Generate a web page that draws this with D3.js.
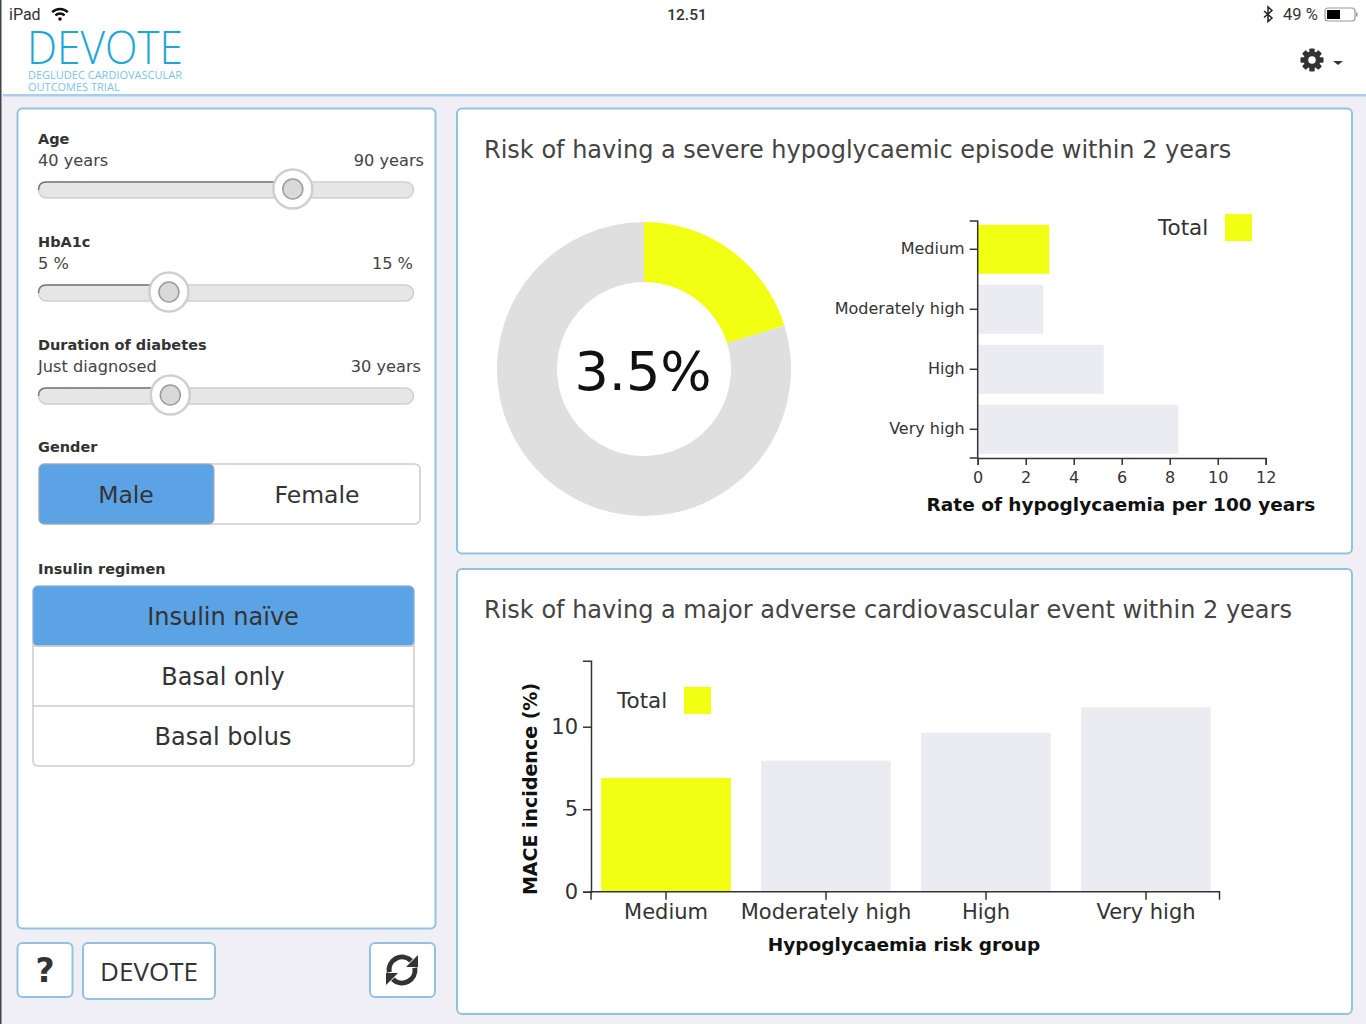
<!DOCTYPE html>
<html>
<head>
<meta charset="utf-8">
<title>DEVOTE</title>
<script src="https://cdn.jsdelivr.net/npm/d3@7"></script>
<style>
  body { margin: 0; background: #f0eff6; }
  svg { display: block; }
  text { font-family: "DejaVu Sans", sans-serif; fill: #333; }
  .axis text { fill: #333; }
  .axis line, .axis path { stroke: #333; stroke-width: 1.5px; }
</style>
</head>
<body>
<div id="chart"></div>
<script>
// values
const riskGroups = ["Medium", "Moderately high", "High", "Very high"];
const hypoRates = [2.98, 2.73, 5.25, 8.36];
const maceValues = [6.89, 7.94, 9.64, 11.17];
const donutValues = [3.5, 13.8];
const donutLabel = "3.5%";
const hypoTicks = [0, 2, 4, 6, 8, 10, 12];
const maceTicks = [0, 5, 10];

const sliderNames = ["Age", "HbA1c", "Duration of diabetes"];
const sliderMinLabels = ["40 years", "5 %", "Just diagnosed"];
const sliderMaxLabels = ["90 years", "15 %", "30 years"];
const sliderDomains = [[40, 90], [5, 15], [0, 30]];
const sliderValues = [74.6, 8.36, 10.2];
const regimens = ["Insulin naïve", "Basal only", "Basal bolus"];

const colors = {
    bg: "#f0eff6",
    border: "#93c1e2",
    yellow: "#f2ff12",
    pale: "#ebecf2",
    donutGrey: "#dfdfdf",
    selected: "#5ba3e4",
    logo: "#1fa6d8",
    logoSub: "#7cc3e6"
};

const svg = d3.select("#chart").append("svg")
    .attr("width", 1366)
    .attr("height", 1024);

function label(parent, str, x, y, size, opts = {}) {
    return parent.append("text")
        .attr("x", x)
        .attr("y", y)
        .attr("font-size", size)
        .attr("font-weight", opts.weight || "normal")
        .attr("text-anchor", opts.anchor || "start")
        .style("font-family", opts.family || null)
        .style("fill", opts.fill || null)
        .text(str);
}

function box(parent, x, y, w, h, opts = {}) {
    return parent.append("rect")
        .attr("x", x).attr("y", y).attr("width", w).attr("height", h)
        .attr("rx", opts.r === undefined ? 5 : opts.r)
        .attr("fill", opts.fill || "#fff")
        .attr("stroke", opts.stroke || colors.border)
        .attr("stroke-width", opts.sw || 2);
}

// header
svg.append("rect").attr("width", 1366).attr("height", 95).attr("fill", "#fff");
svg.append("rect").attr("x", 3).attr("y", 94).attr("width", 1363).attr("height", 2.5).attr("fill", "#a9cdeb");
svg.append("rect").attr("width", 1.5).attr("height", 1024).attr("fill", "#444");

label(svg, "iPad", 9, 20, 16, { family: "Roboto" });
const wifi = svg.append("g").attr("transform", "translate(60,20)")
    .attr("fill", "none").attr("stroke", "#111").attr("stroke-width", 2.4);
[11, 6.5].forEach(r => {
    wifi.append("path").attr("d", d3.arc()({
        innerRadius: r, outerRadius: r,
        startAngle: -Math.PI / 4, endAngle: Math.PI / 4
    }));
});
wifi.append("circle").attr("r", 1.8).attr("cy", -1).attr("fill", "#111").attr("stroke", "none");

label(svg, "12.51", 687, 20, 15.5, { anchor: "middle", family: "Roboto", weight: 500 });
svg.append("path")
    .attr("d", "M1264,11 L1272,18 L1268,21.5 L1268,7 L1272,10.5 L1264,17.5")
    .attr("fill", "none").attr("stroke", "#222").attr("stroke-width", 1.5);
label(svg, "49 %", 1283, 20, 16.5, { family: "Roboto" });
box(svg, 1325, 8, 30, 13, { r: 3, stroke: "#999", sw: 1.2 });
svg.append("rect").attr("x", 1327).attr("y", 10).attr("width", 13).attr("height", 9).attr("fill", "#000");
svg.append("rect").attr("x", 1356).attr("y", 12.5).attr("width", 1.5).attr("height", 4).attr("fill", "#999");

label(svg, "DEVOTE", 27, 64, 46, { family: "Open Sans", weight: 300, fill: colors.logo })
    .attr("textLength", 156).attr("lengthAdjust", "spacingAndGlyphs");
label(svg, "DEGLUDEC CARDIOVASCULAR", 28, 79, 11, { family: "Open Sans", fill: colors.logoSub });
label(svg, "OUTCOMES TRIAL", 28, 91, 11, { family: "Open Sans", fill: colors.logoSub });

// gear
const gear = svg.append("g").attr("transform", "translate(1312,60)");
d3.range(4).forEach(i => {
    gear.append("rect").attr("x", -2.7).attr("y", -11.5).attr("width", 5.4).attr("height", 23)
        .attr("rx", 1).attr("fill", "#333").attr("transform", `rotate(${i * 45})`);
});
gear.append("circle").attr("r", 8.5).attr("fill", "#333");
gear.append("circle").attr("r", 3.8).attr("fill", "#fff");
svg.append("path").attr("d", "M1333,61 L1343,61 L1338,65 Z").attr("fill", "#333");

// left panel
box(svg, 17.5, 108.5, 418, 820);

const sliderBlocks = [139, 242, 345];
const sliderX = i => d3.scaleLinear().domain(sliderDomains[i]).range([52, 400]);
sliderNames.forEach((name, i) => {
    const top = sliderBlocks[i];
    const g = svg.append("g");
    label(g, name, 38, top + 5, 14.5, { weight: "bold" });
    label(g, sliderMinLabels[i], 38, top + 27, 16.2, { fill: "#444" });
    label(g, sliderMaxLabels[i], i === 1 ? 413 : (i === 0 ? 424 : 421), top + 27, 16.2, { anchor: "end", fill: "#444" });
    const cx = sliderX(i)(sliderValues[i]);
    const ty = top + 50;
    box(g, 38.5, ty - 7, 375, 16, { r: 8, fill: "#e6e6e6", stroke: "#cfcfcf", sw: 1.5 });
    g.append("path")
        .attr("d", `M${cx},${ty - 7} L46,${ty - 7} Q38.5,${ty - 7} 38.5,${ty + 1}`)
        .attr("fill", "none").attr("stroke", "#777").attr("stroke-width", 1.5);
    g.append("circle").attr("cx", cx).attr("cy", ty).attr("r", 19.5)
        .attr("fill", "#fff").attr("stroke", "#cfcfcf").attr("stroke-width", 2.5);
    g.append("circle").attr("cx", cx).attr("cy", ty).attr("r", 10)
        .attr("fill", "#d9d9d9").attr("stroke", "#9c9c9c").attr("stroke-width", 1.5);
});

label(svg, "Gender", 38, 452, 14.5, { weight: "bold" });
box(svg, 39, 464, 381, 60, { stroke: "#ccc", sw: 1.5 });
box(svg, 39, 464, 175, 60, { fill: colors.selected, stroke: "#aaa", sw: 1 });
label(svg, "Male", 126, 503, 23.5, { anchor: "middle" });
label(svg, "Female", 317, 503, 23.5, { anchor: "middle" });

label(svg, "Insulin regimen", 38, 574, 14.5, { weight: "bold" });
box(svg, 33, 586, 381, 180, { stroke: "#ccc", sw: 1.5 });
regimens.forEach((r, i) => {
    if (i === 0) {
        box(svg, 33, 586, 381, 60, { fill: colors.selected, stroke: "#8fb8dd", sw: 1 });
    } else {
        svg.append("line").attr("x1", 33).attr("x2", 414)
            .attr("y1", 586 + 60 * i).attr("y2", 586 + 60 * i)
            .attr("stroke", "#ccc").attr("stroke-width", 1.5);
    }
    label(svg, r, 223, 625 + 60 * i, 24, { anchor: "middle" });
});

// bottom buttons
box(svg, 17.5, 943, 55, 54);
label(svg, "?", 45, 982, 33, { anchor: "middle", weight: "bold" });
box(svg, 83, 943, 132, 56);
label(svg, "DEVOTE", 149, 981, 26, { anchor: "middle", family: "Open Sans" });
box(svg, 370, 943, 65, 54);
const refresh = svg.append("g").attr("transform", "translate(402,970)");
[[-100, 45], [80, 225]].forEach(([a, b]) => {
    refresh.append("path").attr("d", d3.arc()({
        innerRadius: 10.5, outerRadius: 15.5,
        startAngle: a * Math.PI / 180,
        endAngle: b * Math.PI / 180
    })).attr("fill", "#333");
});
refresh.append("path").attr("d", "M16,-15 L16,-3 L4,-3 Z").attr("fill", "#333");
refresh.append("path").attr("d", "M-16,15 L-16,3 L-4,3 Z").attr("fill", "#333");

// right panels
box(svg, 457, 108.5, 895, 445);
box(svg, 457, 569, 895, 445);
label(svg, "Risk of having a severe hypoglycaemic episode within 2 years", 484, 158, 24, { fill: "#444" });
label(svg, "Risk of having a major adverse cardiovascular event within 2 years", 484, 618, 24, { fill: "#444" });

// donut
const pie = d3.pie().sort(null);
const arc = d3.arc().innerRadius(87).outerRadius(147);
const donut = svg.append("g").attr("transform", "translate(644,369)");
donut.selectAll("path")
    .data(pie(donutValues))
    .enter()
    .append("path")
    .attr("d", arc)
    .attr("fill", (d, i) => i === 0 ? colors.yellow : colors.donutGrey);
label(donut, donutLabel, -1, 21, 54, { anchor: "middle", fill: "#111" });

// horizontal bars
const hx = d3.scaleLinear().domain([0, 12]).range([977.7, 1265.7]);
const hy = d3.scaleBand().domain(riskGroups).range([219.3, 459.3]).paddingInner(0.183).paddingOuter(0.0915);

svg.selectAll(".hbar")
    .data(hypoRates)
    .enter()
    .append("rect")
    .attr("class", "hbar")
    .attr("x", hx(0))
    .attr("y", (d, i) => hy(riskGroups[i]))
    .attr("width", d => hx(d) - hx(0))
    .attr("height", hy.bandwidth())
    .attr("fill", (d, i) => i === 0 ? colors.yellow : colors.pale);

const hLeft = svg.append("g").attr("class", "axis")
    .attr("transform", `translate(${hx(0)},0)`)
    .call(d3.axisLeft(hy).tickSize(8).tickPadding(5));
hLeft.select(".domain").attr("d", "M-8,221H0V458H-8").attr("fill", "none");
hLeft.selectAll("text").attr("font-size", 16).style("font-family", '"DejaVu Sans"');

const hBottom = svg.append("g").attr("class", "axis")
    .attr("transform", "translate(0,458)")
    .call(d3.axisBottom(hx).tickValues(hypoTicks).tickSize(7).tickPadding(7));
hBottom.selectAll("text").attr("font-size", 16).style("font-family", '"DejaVu Sans"');

label(svg, "Rate of hypoglycaemia per 100 years", 1121, 511, 18.5, { anchor: "middle", weight: "bold", fill: "#111" });
label(svg, "Total", 1158, 235, 21.5);
svg.append("rect").attr("x", 1225).attr("y", 214).attr("width", 27).attr("height", 27).attr("fill", colors.yellow);

// vertical bars
const vx = d3.scaleBand().domain(riskGroups).range([586, 1226]).paddingInner(0.19).paddingOuter(0.095);
const vy = d3.scaleLinear().domain([0, 14]).range([891.7, 660.7]);

svg.selectAll(".vbar")
    .data(maceValues)
    .enter()
    .append("rect")
    .attr("class", "vbar")
    .attr("x", (d, i) => vx(riskGroups[i]))
    .attr("y", d => vy(d))
    .attr("width", vx.bandwidth())
    .attr("height", d => vy(0) - vy(d))
    .attr("fill", (d, i) => i === 0 ? colors.yellow : colors.pale);

const vLeft = svg.append("g").attr("class", "axis")
    .attr("transform", "translate(591,0)")
    .call(d3.axisLeft(vy).tickValues(maceTicks).tickSize(8).tickPadding(5));
vLeft.selectAll("text").attr("font-size", 21).style("font-family", '"DejaVu Sans"');

const vBottom = svg.append("g").attr("class", "axis")
    .attr("transform", `translate(0,${vy(0)})`)
    .call(d3.axisBottom(vx).tickSize(8).tickPadding(4));
vBottom.select(".domain").attr("d", "M591,8V0H1219.5V8").attr("fill", "none");
vBottom.selectAll("text").attr("font-size", 21).style("font-family", '"DejaVu Sans"');

label(svg, "Hypoglycaemia risk group", 904, 951, 18.5, { anchor: "middle", weight: "bold", fill: "#111" });
label(svg, "MACE incidence (%)", 0, 0, 19, { anchor: "middle", weight: "bold", fill: "#111" })
    .attr("transform", "translate(537,789) rotate(-90)");
label(svg, "Total", 617, 708, 21.5);
svg.append("rect").attr("x", 684).attr("y", 687).attr("width", 27).attr("height", 27).attr("fill", colors.yellow);
</script>
</body>
</html>
